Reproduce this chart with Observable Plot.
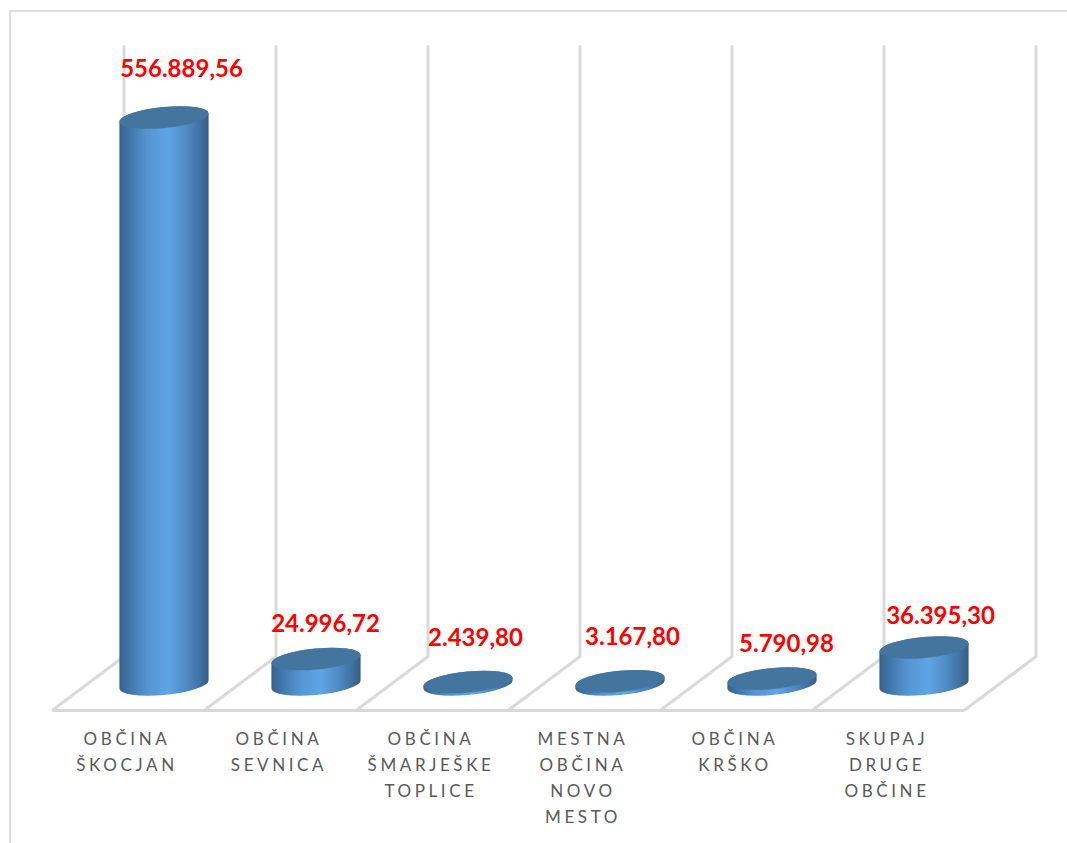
<!DOCTYPE html>
<html><head><meta charset="utf-8">
<script src="https://cdn.jsdelivr.net/npm/d3@7"></script>
<script src="https://cdn.jsdelivr.net/npm/@observablehq/plot@0.6"></script>
<style>
html,body{margin:0;padding:0;background:#fff;overflow:hidden}
#frame{position:absolute;left:9px;top:10px;width:1058px;height:833px;box-sizing:border-box;border:solid #e0e0e0;border-width:2px 0 0 2px}
#chart{position:absolute;left:0;top:0}
svg{display:block}
[aria-label="x-axis tick label"] text{letter-spacing:3.6px}
</style></head><body>
<div id="frame"></div>
<div id="chart"></div>
<script>
const categories=["OBČINA ŠKOCJAN","OBČINA SEVNICA","OBČINA ŠMARJEŠKE TOPLICE","MESTNA OBČINA NOVO MESTO","OBČINA KRŠKO","SKUPAJ DRUGE OBČINE"];
const values=[556889.56,24996.72,2439.80,3167.80,5790.98,36395.30];
const valueLabels=["556.889,56","24.996,72","2.439,80","3.167,80","5.790,98","36.395,30"];
const labelDx=[17,9,7,12,14,16];
const labelDy=[-49,-35,-44,-44,-35,-32];
const wallTopValue=627700;
const data=categories.map((c,i)=>({c,v:values[i],t:valueLabels[i],dx:labelDx[i],dy:labelDy[i]}));

const depthX=72,depthFront=26,depthBack=28,cx=36;
const a=44.8,b=10.5,theta=-5.5;
const rad=theta*Math.PI/180;
const W=Math.sqrt(a*a*Math.cos(rad)**2+b*b*Math.sin(rad)**2);
const tip=(a*a-b*b)*Math.sin(-rad)*Math.cos(rad)/W;
const NS="http://www.w3.org/2000/svg";

const defs=()=>{
  const s=d3.create("svg:g");
  const d=s.append("defs");
  const g=d.append("linearGradient").attr("id","cyl").attr("x1",0).attr("x2",1).attr("y1",0).attr("y2",0);
  [[0,"#35608c"],[.1,"#3f73a7"],[.3,"#5493d0"],[.55,"#5fa5e5"],[.75,"#4f8ac4"],[.92,"#3f6f9f"],[1,"#365c84"]]
    .forEach(([o,c])=>g.append("stop").attr("offset",o).attr("stop-color",c));
  return s.node();
};

const wireframe=(index,{x,y})=>{
  const s=d3.create("svg:g").attr("fill","none").attr("stroke","#d9d9d9").attr("stroke-width",3);
  const y0=y(0),bw=x.bandwidth(),top=y(wallTopValue);
  const xs=categories.map(c=>x(c)).concat(x(categories[5])+bw);
  s.append("path").attr("d",`M${xs[0]},${y0+depthFront}H${xs[6]}`);
  xs.forEach(v=>s.append("path").attr("d",`M${v},${y0+depthFront}L${v+depthX},${y0-depthBack}V${top}`));
  return s.node();
};

const cylinders=(index,scales,vals,dim,ctx,next)=>{
  const g=next(index,scales,vals,dim,ctx);
  g.querySelectorAll("rect").forEach(r=>{
    const l=+r.getAttribute("x"),w=+r.getAttribute("width"),t=+r.getAttribute("y"),h=+r.getAttribute("height");
    const mx=l+w/2,yb=t+h;
    const p=document.createElementNS(NS,"path");
    p.setAttribute("d",`M${mx-W},${t+tip}A${a},${b},${theta},0,1,${mx+W},${t-tip}V${yb-tip}A${a},${b},${theta},0,1,${mx-W},${yb+tip}Z`);
    p.setAttribute("fill","url(#cyl)");
    const e=document.createElementNS(NS,"ellipse");
    e.setAttribute("cx",mx);e.setAttribute("cy",t);e.setAttribute("rx",a);e.setAttribute("ry",b);
    e.setAttribute("transform",`rotate(${theta} ${mx} ${t})`);
    e.setAttribute("fill","#44759f");
    r.replaceWith(p,e);
  });
  return g;
};

const plot=Plot.plot({
  width:1067,height:843,
  marginLeft:52,marginRight:103,marginTop:0,marginBottom:132,
  style:{fontFamily:"Lato, sans-serif",background:"transparent",overflow:"visible"},
  x:{domain:categories,paddingInner:0,paddingOuter:0,axis:null},
  y:{domain:[0,600000],range:[684.5,684.5-600000*567/556889.56],axis:null},
  marks:[
    defs,
    wireframe,
    Plot.axisX(categories,{anchor:"bottom",tickSize:0,tickPadding:15,dx:-1.5,label:null,fontSize:17,lineHeight:26/17,fill:"#595959",
      tickFormat:d=>d.replaceAll(" ","\n")}),
    Plot.barY(data,{x:"c",y:"v",dx:cx,insetLeft:30,insetRight:30,render:cylinders}),
    ...data.map(d=>Plot.text([d],{x:"c",y:"v",text:"t",dx:cx+d.dx,dy:d.dy,fill:"#ff0000",fontWeight:"bold",fontSize:24}))
  ]
});
document.getElementById("chart").append(plot);
</script></body></html>
